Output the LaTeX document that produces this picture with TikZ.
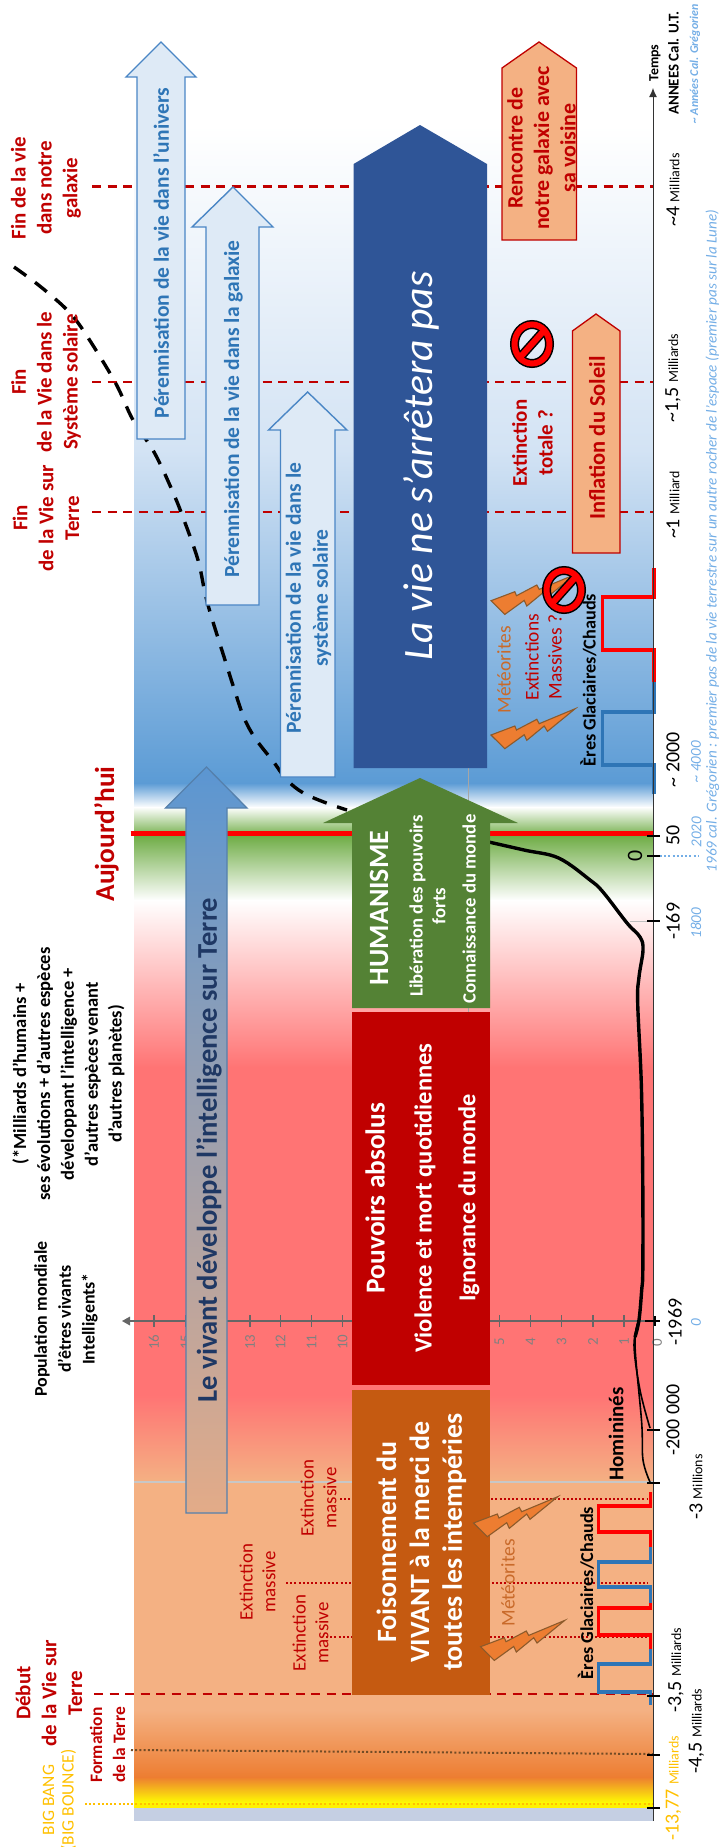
\documentclass[tikz,border=0pt]{standalone}
\usepackage{fontspec}
\setmainfont{Carlito}
\usetikzlibrary{arrows.meta}
\definecolor{cred}{HTML}{C00000}
\definecolor{cblue}{HTML}{2E75B6}
\definecolor{clight}{HTML}{DEEAF6}
\definecolor{cline}{HTML}{4A86C5}
\definecolor{cnavy}{HTML}{2F5597}
\definecolor{cgreen}{HTML}{548235}
\definecolor{cpeach}{HTML}{F4B183}
\definecolor{corange}{HTML}{ED7D31}
\definecolor{cbrown}{HTML}{C55A11}
\definecolor{csky}{HTML}{5B9BD5}
\definecolor{cpale}{HTML}{D3E3F4}
\definecolor{cgrn}{HTML}{70AD47}
\definecolor{cpink}{HTML}{FF7474}
\definecolor{cslate}{HTML}{C5CFE3}
\definecolor{cital}{HTML}{74AEE6}
\definecolor{cgold}{HTML}{FFC000}
\definecolor{cgrayax}{HTML}{666666}
\definecolor{cboltline}{HTML}{8C5A2B}
\definecolor{cvivtop}{HTML}{5B96D2}
\definecolor{cvivbot}{HTML}{E3AB88}
\definecolor{cvivline}{HTML}{5580AC}
\definecolor{cvivtxt}{HTML}{1F3864}
\newcommand{\fs}[2]{\fontsize{#1}{#2}\selectfont}
\newcommand{\band}[4]{\shade[top color=#3,bottom color=#4] (134,#1) rectangle (653,#2);}
\newcommand{\boltat}[2]{\draw[boltst,shift={(#1,#2)}] (0,0)--(23.8,-9)--(25.5,-5)--(45.8,-15.7)--(48.2,-11.3)--(84.2,-26.3)--(56.5,-3.7)--(53.2,-9)--(35.8,5.3)--(33.2,-0.3)--(13.8,13.7)--cycle;}
\newcommand{\nosign}[2]{\begin{scope}[shift={(#1,#2)}]
\draw[black,line width=9bp] (0,0) ellipse [x radius=17.5bp,y radius=19.5bp];
\draw[black,line width=9bp] (-12.5,14)--(12.5,-14);
\draw[red,line width=6bp] (0,0) ellipse [x radius=17.5bp,y radius=19.5bp];
\draw[red,line width=6bp] (-12.5,14)--(12.5,-14);
\end{scope}}
\newcommand{\ytick}[1]{\draw[tickst] (647,#1)--(660,#1);}
\newcommand{\popn}[2]{\draw[cgrayax,line width=1.3bp] (#1,1315)--(#1,1327);\node[popnum] (pop#2) at (#1,1342) {#2};}
\tikzset{
  txt/.style={rotate=90,inner sep=0pt,align=center},
  lab/.style={txt,text=cred,font=\fs{21}{26}\bfseries},
  perarrow/.style={fill=clight,draw=cline,line width=1.4bp,line join=miter},
  perlab/.style={txt,text=cblue,font=\fs{21.6}{27}\bfseries},
  peachbox/.style={fill=cpeach,draw=red!75!black,line width=1.3bp,line join=miter},
  peachlab/.style={txt,text=cred,font=\fs{22}{26.5}\bfseries},
  axbig/.style={txt,text=black,font=\fs{20}{24}},
  ital/.style={txt,text=cital,font=\fs{15.2}{17}\itshape},
  popnum/.style={txt,text=gray,font=\fs{15}{17}},
  exlab/.style={txt,text=cred,font=\fs{19}{23}},
  redash/.style={cred,line width=2.5bp,dash pattern=on 9bp off 6.5bp},
  redot/.style={cred,line width=2bp,dash pattern=on 2bp off 2.2bp},
  boltst/.style={fill=corange,draw=cboltline,line width=1.1bp,line join=miter},
  tickst/.style={black,line width=2bp},
  wave/.style={line width=3.4bp,line join=miter},
}
\begin{document}
\begin{tikzpicture}[x=1bp,y=-1bp]
\useasboundingbox (0,0) rectangle (721,1847);
% background bands
\band{125}{450.5}{white}{cpale}
\band{450}{783.5}{cpale}{csky}
\band{783}{807.5}{csky}{white}
\band{807}{836.5}{white}{cgrn}
\band{836}{900.5}{cgrn}{white}
\band{900}{1067.5}{white}{cpink}
\fill[cpink] (134,1067) rectangle (653,1395.5);
\band{1395}{1482.5}{cpink}{cpeach}
\fill[cpeach] (134,1482) rectangle (653,1710.5);
\band{1710}{1777.5}{cpeach}{corange}
\band{1777}{1803.5}{corange}{yellow}
\fill[yellow] (134,1803) rectangle (653,1808.5);
\fill[cslate] (134,1808) rectangle (653,1821);
% thin grey guides
\draw[black!22,line width=2bp] (134,1482)--(653,1482);
\draw[black!25,line width=0.7bp] (630,921)--(653,921);
\draw[black!35,line width=0.6bp] (468.5,768)--(468.5,1012);
% dashed and dotted guides
\draw[redash] (92,186.7)--(653,186.7);
\draw[redash] (92,382)--(653,382);
\draw[redash] (92,512)--(653,512);
\draw[redash] (94,1694)--(653,1694);
\draw[redot] (340,1499)--(648,1499);
\draw[redot] (286,1583)--(648,1583);
\draw[redot] (326,1637)--(648,1637);
\draw[cgold,line width=2bp,dash pattern=on 2bp off 2.2bp] (85,1804)--(653,1804);
\draw[black!40!brown,line width=2bp,dash pattern=on 2bp off 2.2bp] (131,1750)--(653,1754);
\draw[red,line width=5bp] (130.5,833)--(653,833);
% population axis
\draw[cgrayax,line width=1.2bp] (653,1321)--(127,1321);
\fill[cgrayax] (122,1321)--(130,1316.5)--(130,1325.5)--cycle;
\popn{154}{16}\popn{185.5}{15}\popn{250}{13}\popn{280.5}{12}\popn{311.5}{11}\popn{342.5}{10}\popn{499.5}{5}\popn{530.5}{4}\popn{561.5}{3}\popn{593}{2}\popn{624}{1}
\node[popnum] (pop0) at (657,1343) {0};
% dashed population curve
\draw[black,line width=3.4bp,dash pattern=on 15bp off 11bp] plot[smooth,tension=0.6] coordinates {(14,267)(32,280)(50.6,295)(69,312)(85,333)(115,382)(133,420)(154,452)(172,490)(184,520)(198,560)(205,593)(211.5,617)(225,660)(234.5,690)(243.7,717)(255,738)(273.6,762)(287,780)(303.4,793)(326.4,803)(347,810)};
% solid population curve
\draw[black,line width=3.4bp] plot[smooth,tension=0.6] coordinates {(480,840)(524,850)(558.6,858)(590,880)(603,892)(627,923)(640,937)(643,950)(639,977)(637.7,1003)(641.4,1087)(642.8,1187)(642.8,1270)(641.7,1290)(639,1320)(635,1337)};
\draw[black,line width=1.6bp] plot[smooth,tension=0.6] coordinates {(639,1320)(634,1345)(640,1390)(650,1428)};
\draw[black,line width=1.6bp] plot[smooth,tension=0.6] coordinates {(639,1320)(635,1345)(641.7,1423)(643,1460)(650,1482)};
% futures arrows
\draw[perarrow] (137,439)--(137,77)--(126,77)--(161,42)--(196,77)--(185,77)--(185,439)--cycle;
\draw[perarrow] (206,605)--(206,227)--(192,227)--(233,187)--(273,227)--(259,227)--(259,605)--cycle;
\draw[perarrow] (280.5,777)--(280.5,430)--(268.5,430)--(307.6,392)--(347,430)--(335,430)--(335,777)--cycle;
\fill[cnavy] (353.6,768)--(353.6,164)--(420,125)--(487,164)--(487,768)--cycle;
\draw[peachbox] (502,240)--(502,68)--(539,42)--(576.5,68)--(576.5,240)--cycle;
\draw[peachbox] (572.4,553)--(572.4,331)--(596,314)--(620,331)--(620,553)--cycle;
% vivant arrow
\shade[top color=cvivtop,bottom color=cvivbot,draw=cvivline,line width=1.3bp] (186,1513)--(186,808)--(165.5,808)--(206.5,767)--(247,808)--(227,808)--(227,1513)--cycle;
% era blocks
\fill[cgreen] (352,1008)--(352,823)--(323,823)--(420,778)--(518,823)--(490,823)--(490,1008)--cycle;
\fill[cred] (352,1012) rectangle (490,1385);
\fill[cbrown] (352,1390) rectangle (490,1695);
% ages wave
\draw[cblue,wave] (654,794)--(654,765)--(602.5,765)--(602.5,712)--(654,712)--(654,682);
\draw[red,wave] (654,682)--(654,650)--(602.5,650)--(602.5,597)--(654,597)--(654,568);
\draw[cblue,wave] (650.5,1705)--(650.5,1692)--(598.6,1692)--(598.6,1664)--(650.5,1664)--(650.5,1649);
\draw[red,wave] (650.5,1649)--(650.5,1635)--(598.6,1635)--(598.6,1608)--(650.5,1608)--(650.5,1603);
\draw[cblue,wave] (650.5,1603)--(650.5,1587)--(598.6,1587)--(598.6,1562)--(650.5,1562)--(650.5,1547);
\draw[red,wave] (650.5,1547)--(650.5,1532)--(598.6,1532)--(598.6,1506)--(650.5,1506)--(650.5,1492);
% lightning
\boltat{491}{735}
\boltat{491}{600.7}
\boltat{473.5}{1523}
\boltat{480.5}{1646.7}
\nosign{532}{344}
\nosign{564}{590}
% time axis
\draw[black!80,line width=1bp,-{Latex[length=9bp,width=8bp]}] (653,1821)--(653,88);
\ytick{836}\ytick{855.5}\ytick{921}\ytick{1430}\ytick{1483}\ytick{1696}\ytick{1755}\ytick{1808}
\draw[tickst] (645,1321)--(660,1321);
\draw[tickst] (655,1316)--(655,1326);
\draw[cital,line width=2bp,dash pattern=on 2bp off 2.2bp] (660,855.5)--(698,855.5);
% left labels
\node[lab] (finG) at (46,188) {Fin de la vie\\dans notre\\galaxie};
\node[lab] (finS) at (46,382) {Fin\\de la Vie dans le\\Système solaire};
\node[lab] (finT) at (46,518) {Fin\\de la Vie sur\\Terre};
\node[lab] (debut) at (49,1693) {Début\\de la Vie sur\\Terre};
\node[txt,text=cred,font=\fs{27.5}{30}\bfseries] (today) at (106.5,834) {Aujourd’hui};
\node[txt,text=black,font=\fs{18.6}{24}\bfseries] (milli) at (68.5,1074) {(*Milliards d’humains +\\ses évolutions + d’autres espèces\\développant l’intelligence +\\d’autres espèces  venant\\d’autres planètes)};
\node[txt,text=black,font=\fs{18}{24}\bfseries] (popw) at (66,1319) {Population mondiale\\d’êtres vivants\\Intelligents*};
\node[txt,text=cred,font=\fs{17.5}{23}\bfseries] (form) at (107.5,1745) {Formation\\de la Terre};
\node[txt,text=cgold,font=\fs{17.5}{19.5}] (bang) at (59.5,1800) {BIG BANG\\(BIG BOUNCE)};
\node[exlab] (exA) at (318.5,1498) {Extinction\\massive};
\node[exlab] (exB) at (257.5,1582) {Extinction\\massive};
\node[exlab] (exC) at (310.5,1633) {Extinction\\massive};
% arrows text
\node[perlab] (pU) at (161,253) {Pérennisation de la vie dans l’univers};
\node[perlab] (pG) at (233.5,409) {Pérennisation de la vie dans la galaxie};
\node[perlab] (pS) at (308.5,598) {Pérennisation de la vie dans le\\système solaire};
\node[txt,text=white,font=\fs{42}{44}\itshape] (lavie) at (421,466) {La vie ne s’arrêtera pas};
\node[peachlab] (renc) at (541.5,148) {Rencontre de\\notre galaxie avec\\sa voisine};
\node[txt,text=cred,font=\fs{22.6}{26}\bfseries] (infl) at (597,438) {Inflation du Soleil};
\node[txt,text=cred,font=\fs{21}{26}\bfseries] (extt) at (532.5,443) {Extinction\\totale ?};
\node[txt,text=cvivtxt,font=\fs{28.7}{30}\bfseries] (viv) at (209,1150) {Le vivant développe l’intelligence sur Terre};
\node[txt,text=white,font=\fs{28}{30}\bfseries] (hum) at (379,908) {HUMANISME};
\node[txt,text=white,font=\fs{18.8}{23}\bfseries] (lib) at (427.5,906) {Libération des pouvoirs\\forts};
\node[txt,text=white,font=\fs{18.8}{23}\bfseries] (conn) at (469,909) {Connaissance  du monde};
\node[txt,text=white,font=\fs{27.5}{30}\bfseries] (pouv) at (375,1198) {Pouvoirs absolus};
\node[txt,text=white,font=\fs{24.6}{30}\bfseries] (viol) at (425,1198) {Violence et mort quotidiennes};
\node[txt,text=white,font=\fs{24.4}{30}\bfseries] (ign) at (469,1198) {Ignorance du monde};
\node[txt,text=white,font=\fs{28}{33}\bfseries] (fois) at (421.5,1542) {Foisonnement du\\VIVANT à la merci de\\toutes les intempéries};
\node[txt,text=corange!85!black,font=\fs{19.5}{22}] (met1) at (504,670) {Météorites};
\node[txt,text=corange!85!black,font=\fs{19.5}{22}] (met2) at (508,1583) {Météorites};
\node[txt,text=cred,font=\fs{19.5}{23}] (exm) at (543.5,657) {Extinctions\\Massives ?};
\node[txt,text=black,font=\fs{18.3}{20}\bfseries] (er1) at (588.5,680) {Ères Glaciaires/Chauds};
\node[txt,text=black,font=\fs{18.3}{20}\bfseries] (er2) at (586,1593) {Ères Glaciaires/Chauds};
\node[txt,text=black,font=\fs{21}{24}\bfseries] (homi) at (616,1434) {Homininés};
% time labels
\node[txt,text=black,font=\fs{14}{14}\bfseries] (temps) at (655,63) {Temps};
\node[txt,text=black,font=\fs{15}{18}\bfseries] (annees) at (673.5,63) {ANNEES Cal. U.T.};
\node[txt,text=cital,font=\fs{12}{14}\bfseries\itshape] (anng) at (695,64) {\textasciitilde{} Années Cal. Grégorien};
\node[axbig] (t4) at (673,190) {\textasciitilde4 {\fs{14}{16}Milliards}};
\node[axbig] (t15) at (673,378) {\textasciitilde1,5 {\fs{14}{16}Milliards}};
\node[axbig] (t1) at (673,505) {\textasciitilde1 {\fs{14}{16}Milliard}};
\node[axbig] (t2000) at (673,760) {\textasciitilde{} 2000};
\node[axbig] (t50) at (673,835) {50};
\node[txt,text=black,font=\fs{22}{24}] (t0) at (635,855.5) {0};
\node[axbig] (t169) at (673,921) {-169};
\node[axbig] (t1969) at (675,1322) {-1969};
\node[axbig] (t2e5) at (673,1420) {-200 000};
\node[axbig] (t3m) at (696,1487) {-3 {\fs{14}{16}Millions}};
\node[axbig] (t35) at (676,1670) {-3,5 {\fs{14}{16}Milliards}};
\node[axbig] (t45) at (696.5,1731) {-4,5 {\fs{14}{16}Milliards}};
\node[axbig,text=cgold] (t13) at (673.5,1788.5) {-13,77 {\fs{14}{16}Milliards}};
\node[ital] (i4000) at (696,762) {\textasciitilde{} 4000};
\node[ital] (i2020) at (696.5,832) {2020};
\node[ital] (i1800) at (696,923) {1800};
\node[ital] (i0) at (696,1323) {0};
\node[ital] (i1969) at (712.5,541) {1969 cal. Grégorien : premier pas de la vie terrestre sur un autre rocher de l’espace (premier pas sur la Lune)};
\end{tikzpicture}
\end{document}
